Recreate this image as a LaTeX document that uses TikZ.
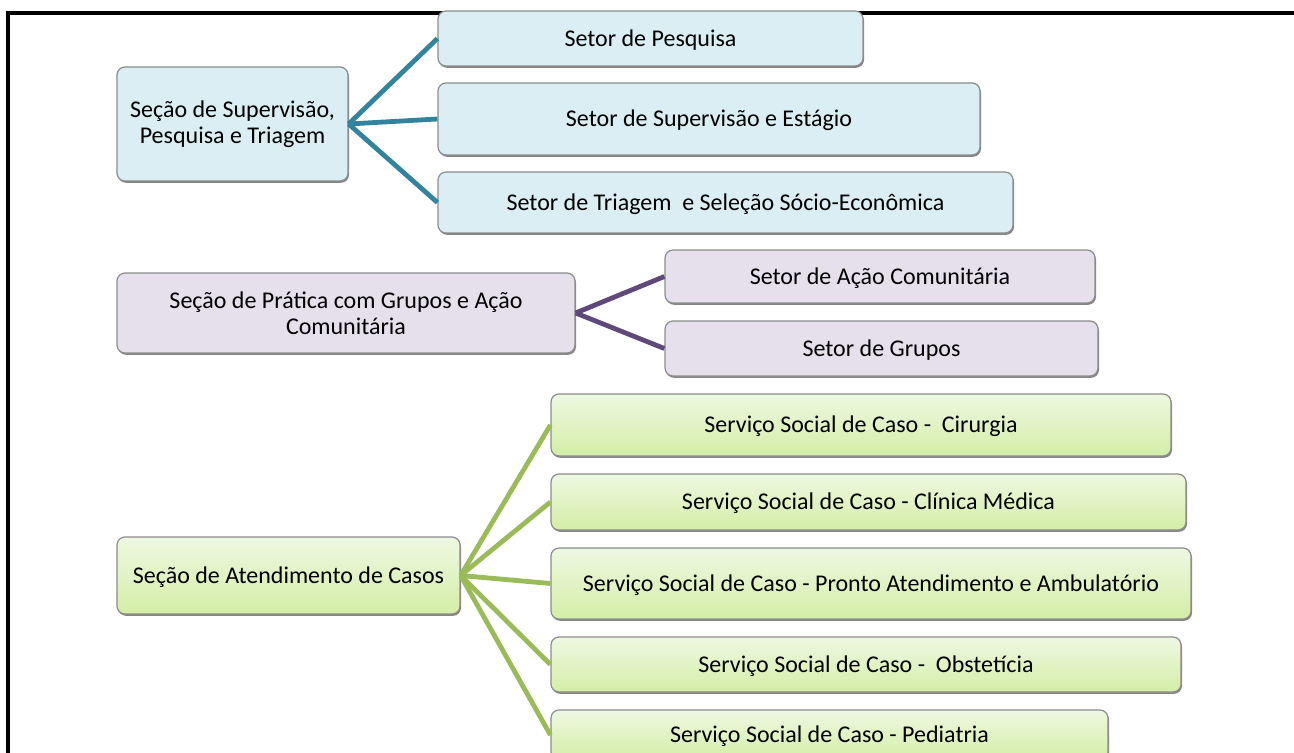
\documentclass[tikz,border=0pt]{standalone}
\usepackage{fontspec}
\setmainfont{Carlito}
\usepackage{xcolor}
\usetikzlibrary{shadows}

\definecolor{tealline}{HTML}{31849B}
\definecolor{purpline}{HTML}{5F497A}
\definecolor{greenline}{HTML}{9BBB59}
\definecolor{bluefill}{HTML}{DAEEF3}
\definecolor{lilacfill}{HTML}{E5E0EC}
\definecolor{greentop}{HTML}{EEF8E2}
\definecolor{greenbot}{HTML}{D4EEA6}

\begin{document}
\begin{tikzpicture}[x=0.5pt,y=-0.5pt,
  box/.style={draw=black!45, line width=0.6pt, rounded corners=4pt, align=center,
    font=\fontsize{12}{13}\selectfont, inner sep=2pt,
    drop shadow={shadow xshift=0.5pt, shadow yshift=-0.9pt, fill=black!60, opacity=0.8}},
  oneline/.style={text height=10.3pt, text depth=2.5pt},
  bluebox/.style={box, fill=bluefill},
  lilacbox/.style={box, fill=lilacfill},
  greenbox/.style={box, oneline, top color=greentop, bottom color=greenbot},
  link/.style={line width=2.4pt}]

\useasboundingbox (0,0) rectangle (1294,753);
\clip (0,0) rectangle (1294,753);

% Frame
\draw[line width=2pt] (7.5,760) -- (7.5,13) -- (1300,13);

% Supervision section
\node[bluebox, minimum width=115.5pt, minimum height=57pt] (secsup) at (232.5,124) {Seção de Supervisão,\\ Pesquisa e Triagem};
\node[bluebox, oneline, minimum width=212.5pt, minimum height=27.5pt] (pesq) at (650.5,38.5) {Setor de Pesquisa};
\node[bluebox, oneline, minimum width=271pt, minimum height=36pt] (supest) at (709,119) {Setor de Supervisão e Estágio};
\node[bluebox, oneline, minimum width=287.5pt, minimum height=30.5pt] (triag) at (725.5,202.5) {Setor de Triagem\ \ e Seleção Sócio-Econômica};

% Group practice section
\node[lilacbox, minimum width=229pt, minimum height=40pt] (secprat) at (346,313) {Seção de Prática com Grupos e Ação\\ Comunitária};
\node[lilacbox, oneline, minimum width=215pt, minimum height=26.5pt] (acao) at (880,276.5) {Setor de Ação Comunitária};
\node[lilacbox, oneline, minimum width=216.5pt, minimum height=27.5pt] (grupos) at (881.5,348.5) {Setor de Grupos};

% Case section
\node[greenbox, minimum width=171.5pt, minimum height=38.5pt] (secatend) at (288.5,575.5) {Seção de Atendimento de Casos};
\node[greenbox, minimum width=310pt, minimum height=31pt] (cir) at (861,425) {Serviço Social de Caso -\ \ Cirurgia};
\node[greenbox, minimum width=317.5pt, minimum height=28pt] (clin) at (868.5,502) {Serviço Social de Caso - Clínica Médica};
\node[greenbox, minimum width=320pt, minimum height=35.5pt] (pronto) at (871,583.5) {Serviço Social de Caso - Pronto Atendimento e Ambulatório};
\node[greenbox, minimum width=315pt, minimum height=27.5pt] (obst) at (866,664.5) {Serviço Social de Caso -\ \ Obstetícia};
\node[greenbox, minimum width=278.5pt, minimum height=25pt] (ped) at (829.5,735) {Serviço Social de Caso - Pediatria};

% Links
\draw[link, tealline] (secsup.east) -- (pesq.west);
\draw[link, tealline] (secsup.east) -- (supest.west);
\draw[link, tealline] (secsup.east) -- (triag.west);

\draw[link, purpline] (secprat.east) -- (acao.west);
\draw[link, purpline] (secprat.east) -- (grupos.west);

\draw[link, greenline] (secatend.east) -- (cir.west);
\draw[link, greenline] (secatend.east) -- (clin.west);
\draw[link, greenline] (secatend.east) -- (pronto.west);
\draw[link, greenline] (secatend.east) -- (obst.west);
\draw[link, greenline] (secatend.east) -- (ped.west);

\end{tikzpicture}
\end{document}
